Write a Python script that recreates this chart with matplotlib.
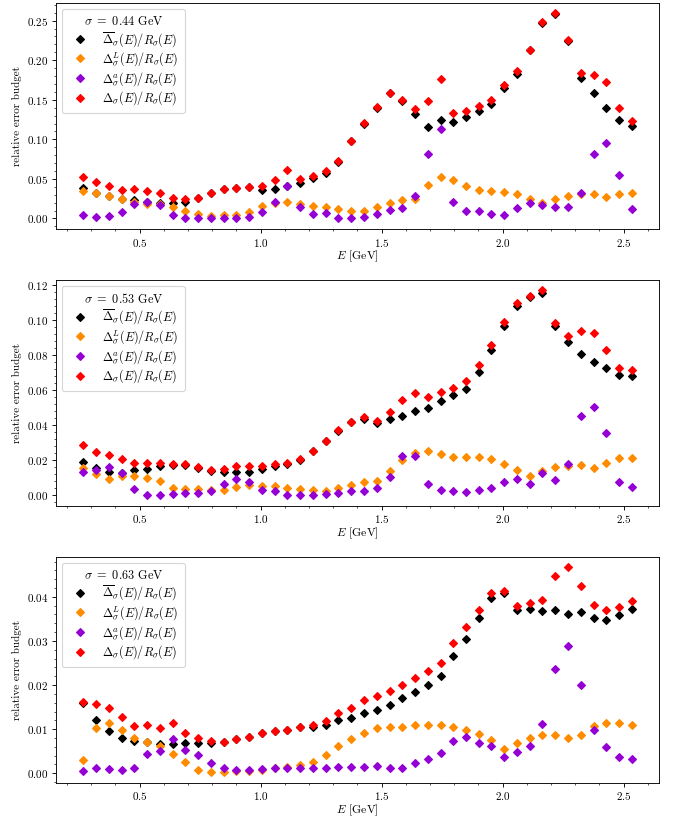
import numpy as np
import matplotlib
matplotlib.use("Agg")
import matplotlib.pyplot as plt
from matplotlib.ticker import MultipleLocator, AutoMinorLocator

plt.rcParams['font.family'] = 'serif'
plt.rcParams['font.serif'] = ['cmr10']
plt.rcParams['mathtext.fontset'] = 'cm'
plt.rcParams['axes.formatter.use_mathtext'] = True
plt.rcParams['axes.unicode_minus'] = False
plt.rcParams['font.size'] = 10

# energies (GeV)
E = [0.268, 0.321, 0.373, 0.426, 0.479, 0.532, 0.584, 0.637, 0.690, 0.742,
     0.795, 0.848, 0.900, 0.953, 1.006, 1.059, 1.111, 1.164, 1.217, 1.269,
     1.322, 1.375, 1.427, 1.480, 1.533, 1.586, 1.638, 1.691, 1.744, 1.796,
     1.849, 1.902, 1.954, 2.007, 2.060, 2.113, 2.165, 2.218, 2.271, 2.323,
     2.376, 2.429, 2.481, 2.534]

sigmas = ['0.44', '0.53', '0.63']

# sigma = 0.44 GeV
stat_044 = [0.0387, 0.0324, 0.0286, 0.0252, 0.0240, 0.0210, 0.0197, 0.0200, 0.0214, 0.0260,
            0.0320, 0.0370, 0.0387, 0.0395, 0.0366, 0.0378, 0.0408, 0.0445, 0.0508, 0.0576,
            0.0714, 0.0975, 0.1200, 0.1400, 0.1580, 0.1480, 0.1320, 0.1155, 0.1250, 0.1220,
            0.1286, 0.1360, 0.1450, 0.1650, 0.1830, 0.2126, 0.2475, 0.2590, 0.2240, 0.1770,
            0.1590, 0.1400, 0.1250, 0.1168]
lat_044 = [0.0345, 0.0324, 0.0286, 0.0252, 0.0210, 0.0189, 0.0180, 0.0139, 0.0097, 0.0059,
           0.0030, 0.0042, 0.0050, 0.0088, 0.0155, 0.0197, 0.0206, 0.0189, 0.0155, 0.0143,
           0.0122, 0.0097, 0.0092, 0.0143, 0.0193, 0.0231, 0.0252, 0.0429, 0.0521, 0.0483,
           0.0412, 0.0361, 0.0345, 0.0332, 0.0307, 0.0244, 0.0197, 0.0248, 0.0290, 0.0307,
           0.0311, 0.0277, 0.0315, 0.0328]
a_044 = [0.0046, 0.0013, 0.0030, 0.0080, 0.0185, 0.0214, 0.0172, 0.0050, 0.0000, 0.0000,
         0.0000, 0.0000, 0.0000, 0.0017, 0.0088, 0.0214, 0.0408, 0.0147, 0.0055, 0.0067,
         0.0008, 0.0004, 0.0021, 0.0063, 0.0109, 0.0130, 0.0282, 0.0815, 0.1134, 0.0210,
         0.0101, 0.0097, 0.0055, 0.0046, 0.0130, 0.0197, 0.0172, 0.0139, 0.0147, 0.0324,
         0.0815, 0.0950, 0.0550, 0.0126]
tot_044 = [0.0525, 0.0458, 0.0408, 0.0366, 0.0370, 0.0349, 0.0320, 0.0260, 0.0248, 0.0260,
           0.0324, 0.0370, 0.0387, 0.0395, 0.0412, 0.0483, 0.0610, 0.0504, 0.0534, 0.0597,
           0.0723, 0.0975, 0.1206, 0.1408, 0.1590, 0.1496, 0.1378, 0.1480, 0.1765, 0.1336,
           0.1360, 0.1416, 0.1500, 0.1690, 0.1860, 0.2134, 0.2483, 0.2597, 0.2256, 0.1836,
           0.1810, 0.1720, 0.1400, 0.1227]

# sigma = 0.53 GeV
stat_053 = [0.0193, 0.0159, 0.0136, 0.0128, 0.0146, 0.0151, 0.0168, 0.0174, 0.0174, 0.0159,
            0.0140, 0.0132, 0.0134, 0.0136, 0.0153, 0.0168, 0.0181, 0.0204, 0.0251, 0.0310,
            0.0368, 0.0416, 0.0437, 0.0412, 0.0438, 0.0450, 0.0480, 0.0499, 0.0540, 0.0569,
            0.0608, 0.0703, 0.0826, 0.0966, 0.1077, 0.1128, 0.1153, 0.0964, 0.0871, 0.0803,
            0.0760, 0.0728, 0.0688, 0.0680]
lat_053 = [0.0157, 0.0123, 0.0094, 0.0108, 0.0108, 0.0098, 0.0081, 0.0043, 0.0036, 0.0036,
           0.0032, 0.0030, 0.0049, 0.0057, 0.0055, 0.0051, 0.0045, 0.0038, 0.0032, 0.0028,
           0.0042, 0.0060, 0.0076, 0.0083, 0.0140, 0.0204, 0.0242, 0.0253, 0.0234, 0.0217,
           0.0221, 0.0219, 0.0206, 0.0181, 0.0147, 0.0110, 0.0140, 0.0161, 0.0170, 0.0172,
           0.0159, 0.0183, 0.0212, 0.0212]
a_053 = [0.0136, 0.0144, 0.0160, 0.0130, 0.0036, 0.0002, 0.0000, 0.0009, 0.0013, 0.0013,
         0.0023, 0.0066, 0.0091, 0.0076, 0.0032, 0.0023, 0.0004, 0.0004, 0.0004, 0.0011,
         0.0013, 0.0025, 0.0028, 0.0043, 0.0104, 0.0223, 0.0225, 0.0066, 0.0030, 0.0026,
         0.0021, 0.0030, 0.0042, 0.0077, 0.0094, 0.0064, 0.0128, 0.0087, 0.0178, 0.0450,
         0.0501, 0.0353, 0.0076, 0.0047]
tot_053 = [0.0285, 0.0246, 0.0230, 0.0210, 0.0183, 0.0183, 0.0187, 0.0181, 0.0178, 0.0163,
           0.0146, 0.0149, 0.0170, 0.0170, 0.0168, 0.0178, 0.0187, 0.0208, 0.0255, 0.0312,
           0.0372, 0.0420, 0.0444, 0.0425, 0.0474, 0.0542, 0.0584, 0.0561, 0.0591, 0.0612,
           0.0652, 0.0741, 0.0856, 0.0990, 0.1094, 0.1136, 0.1170, 0.0983, 0.0905, 0.0937,
           0.0922, 0.0830, 0.0724, 0.0716]

# sigma = 0.63 GeV
stat_063 = [0.0159, 0.0120, 0.0095, 0.0081, 0.0073, 0.0072, 0.0067, 0.0067, 0.0068, 0.0068,
            0.0068, 0.0071, 0.0077, 0.0082, 0.0092, 0.0096, 0.0099, 0.0104, 0.0105, 0.0110,
            0.0121, 0.0126, 0.0137, 0.0143, 0.0155, 0.0170, 0.0185, 0.0201, 0.0221, 0.0267,
            0.0305, 0.0352, 0.0398, 0.0409, 0.0371, 0.0372, 0.0368, 0.0370, 0.0360, 0.0365,
            0.0353, 0.0348, 0.0358, 0.0373]
lat_063 = [0.0031, 0.0102, 0.0114, 0.0098, 0.0080, 0.0071, 0.0062, 0.0044, 0.0025, 0.0008,
           0.0002, 0.0004, 0.0005, 0.0005, 0.0007, 0.0011, 0.0014, 0.0018, 0.0025, 0.0041,
           0.0061, 0.0078, 0.0092, 0.0102, 0.0104, 0.0106, 0.0109, 0.0110, 0.0109, 0.0105,
           0.0098, 0.0089, 0.0075, 0.0054, 0.0069, 0.0079, 0.0086, 0.0086, 0.0080, 0.0087,
           0.0107, 0.0115, 0.0113, 0.0109]
a_063 = [0.0005, 0.0011, 0.0009, 0.0008, 0.0011, 0.0043, 0.0051, 0.0077, 0.0053, 0.0041,
         0.0023, 0.0013, 0.0008, 0.0008, 0.0010, 0.0011, 0.0011, 0.0013, 0.0011, 0.0011,
         0.0015, 0.0014, 0.0014, 0.0017, 0.0012, 0.0011, 0.0024, 0.0032, 0.0045, 0.0074,
         0.0083, 0.0068, 0.0061, 0.0036, 0.0049, 0.0061, 0.0112, 0.0236, 0.0288, 0.0201,
         0.0099, 0.0059, 0.0038, 0.0033]
tot_063 = [0.0162, 0.0158, 0.0147, 0.0127, 0.0107, 0.0109, 0.0103, 0.0113, 0.0091, 0.0080,
           0.0073, 0.0072, 0.0077, 0.0083, 0.0092, 0.0096, 0.0099, 0.0104, 0.0109, 0.0119,
           0.0137, 0.0149, 0.0165, 0.0176, 0.0187, 0.0200, 0.0215, 0.0232, 0.0250, 0.0296,
           0.0331, 0.0370, 0.0408, 0.0413, 0.0380, 0.0386, 0.0393, 0.0447, 0.0468, 0.0424,
           0.0381, 0.0371, 0.0377, 0.0390]

panels = [(stat_044, lat_044, a_044, tot_044),
          (stat_053, lat_053, a_053, tot_053),
          (stat_063, lat_063, a_063, tot_063)]

labels = [r'$\overline{\Delta}_\sigma(E)/R_\sigma(E)$',
          r'$\Delta^L_\sigma(E)/R_\sigma(E)$',
          r'$\Delta^a_\sigma(E)/R_\sigma(E)$',
          r'$\Delta_\sigma(E)/R_\sigma(E)$']
colors = ['black', 'darkorange', 'darkviolet', 'red']

fig, axes = plt.subplots(3, 1, figsize=(674 / 80, 818 / 80), dpi=80)
fig.subplots_adjust(left=0.083, right=0.978, top=0.9967, bottom=0.0432, hspace=0.225)

for ax, sig, series in zip(axes, sigmas, panels):
    for vals, lab, col in zip(series, labels, colors):
        ax.plot(E, vals, 'D', color=col, markersize=5.2, label=lab)
    ax.set_xlabel(r'$E$ [GeV]', labelpad=0, fontsize=10.5)
    ax.set_ylabel('relative error budget')
    ax.xaxis.set_major_locator(MultipleLocator(0.5))
    ax.xaxis.set_minor_locator(MultipleLocator(0.1))
    ax.yaxis.set_minor_locator(AutoMinorLocator(5))
    ax.legend(loc='upper left', title=r'$\sigma\ =\ %s$ GeV' % sig,
              fontsize=11, title_fontsize=11, labelspacing=0.15, borderpad=0.5)

fig.savefig('out.png', dpi=80)
